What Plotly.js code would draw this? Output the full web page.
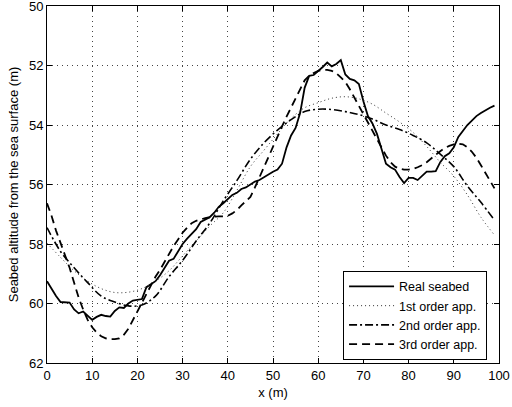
<!DOCTYPE html>
<html>
<head>
<meta charset="utf-8">
<script src="https://cdn.plot.ly/plotly-3.0.1.min.js"></script>
<style>
html,body{margin:0;padding:0;background:#fff;}
#chart{width:512px;height:407px;}
</style>
</head>
<body>
<div id="chart"></div>
<script>
// Real seabed, sampled every metre
var realX = [0,1,2,3,4,5,6,7,8,9,10,11,12,13,14,15,16,17,18,19,20,21,22,23,24,25,26,27,28,29,30,31,32,33,34,35,36,37,38,39,40,41,42,43,44,45,46,47,48,49,50,51,52,53,54,55,56,57,58,59,60,61,62,63,64,65,66,67,68,69,70,71,72,73,74,75,76,77,78,79,80,81,82,83,84,85,86,87,88,89,90,91,92,93,94,95,96,97,98,99];
var realY = [59.25,59.5,59.75,59.95,59.95,59.97,60.2,60.33,60.27,60.4,60.55,60.45,60.38,60.42,60.44,60.25,60.13,60.15,60.0,59.9,59.88,59.85,59.45,59.35,59.25,59.05,58.78,58.56,58.5,58.25,58.0,57.82,57.66,57.5,57.26,57.18,57.1,56.95,56.75,56.63,56.5,56.35,56.28,56.15,56.1,56.0,55.9,55.85,55.75,55.65,55.57,55.5,55.3,54.75,54.35,54.1,53.6,52.75,52.35,52.32,52.2,52.05,51.9,52.03,51.95,51.82,52.3,52.45,52.5,52.62,53.2,53.7,53.95,54.3,54.8,55.3,55.42,55.5,55.75,55.95,55.78,55.78,55.85,55.7,55.57,55.57,55.55,55.25,55.05,54.95,54.75,54.4,54.2,54.0,53.85,53.7,53.6,53.5,53.42,53.35];

// 1st and 2nd order approximations (read every 3 m)
var appX = [0,3,6,9,12,15,18,21,24,27,30,33,36,39,42,45,48,51,54,57,60,63,66,69,72,75,78,81,84,87,90,93,96,99];
var order1Y = [57.97,58.45,58.9,59.25,59.5,59.63,59.62,59.5,59.25,58.9,58.4,57.9,57.4,56.95,56.2,55.4,54.85,54.3,53.78,53.42,53.25,53.1,53.05,53.12,53.3,53.6,53.9,54.25,54.72,55.25,55.72,56.35,57.1,57.7];
var order2Y = [57.45,58.25,58.8,59.3,59.75,59.95,60.08,60.05,59.75,59.1,58.55,57.9,57.3,56.55,55.87,55.15,54.6,54.17,53.82,53.55,53.47,53.48,53.55,53.65,53.8,54.0,54.15,54.35,54.6,54.98,55.4,56.05,56.6,57.2];

// 3rd order approximation (read every metre)
var order3Y = [56.63,57.05,57.55,57.95,58.4,58.8,59.3,59.8,60.2,60.55,60.8,60.98,61.1,61.17,61.2,61.2,61.17,61.05,60.85,60.55,60.25,59.95,59.65,59.4,59.1,58.87,58.6,58.32,58.07,57.85,57.62,57.45,57.3,57.22,57.17,57.13,57.1,57.08,57.07,57.07,57.05,56.97,56.86,56.7,56.55,56.42,56.1,55.75,55.45,55.1,54.75,54.4,54.05,53.72,53.4,53.1,52.8,52.5,52.35,52.25,52.18,52.15,52.15,52.18,52.26,52.4,52.55,52.8,53.08,53.35,53.65,53.92,54.2,54.5,54.78,55.03,55.25,55.4,55.47,55.5,55.5,55.48,55.42,55.35,55.25,55.12,55.0,54.88,54.78,54.7,54.65,54.63,54.65,54.75,54.9,55.1,55.35,55.6,55.85,56.13];

var names = ['Real seabed','1st order app.','2nd order app.','3rd order app.'];
var xTicks = [0,10,20,30,40,50,60,70,80,90,100];
var yTicks = [50,52,54,56,58,60,62];

var traces = [
  {x: realX, y: realY, name: names[0], mode: 'lines', line: {color: '#000', width: 1.8}},
  {x: appX, y: order1Y, name: names[1], mode: 'lines', line: {color: '#333', width: 1, dash: '1px,3px', shape: 'spline'}},
  {x: appX, y: order2Y, name: names[2], mode: 'lines', line: {color: '#000', width: 1.6, dash: '8px,3px,2px,3px', shape: 'spline'}},
  {x: realX, y: order3Y, name: names[3], mode: 'lines', line: {color: '#000', width: 1.8, dash: '8px,5px'}}
];

var fam = 'Liberation Sans, Arial, Helvetica, sans-serif';
var fnt = {family: fam, size: 13, color: '#000'};

var layout = {
  width: 512, height: 407,
  margin: {l: 47, r: 13, t: 6, b: 44},
  paper_bgcolor: '#fff', plot_bgcolor: '#fff',
  font: fnt,
  showlegend: true,
  legend: {
    x: 0.655, y: 0.009, xanchor: 'left', yanchor: 'bottom',
    bgcolor: '#fff', bordercolor: '#000', borderwidth: 1,
    font: {family: fam, size: 12.5, color: '#000'},
    itemwidth: 45, tracegroupgap: 0
  },
  xaxis: {
    range: [0, 100], tickvals: xTicks, ticktext: xTicks.map(String),
    ticks: 'inside', ticklen: 5, tickcolor: '#000', mirror: 'ticks',
    showline: true, linecolor: '#000', linewidth: 1,
    showgrid: true, gridcolor: '#444', griddash: '1px,4px', gridwidth: 1,
    zeroline: false, tickfont: fnt, ticklabeloverflow: 'allow',
    title: {text: 'x (m)', font: fnt, standoff: 6},
    automargin: false
  },
  yaxis: {
    range: [62, 50], tickvals: yTicks, ticktext: yTicks.map(String),
    ticks: 'inside', ticklen: 5, tickcolor: '#000', mirror: 'ticks',
    showline: true, linecolor: '#000', linewidth: 1,
    showgrid: true, gridcolor: '#444', griddash: '1px,4px', gridwidth: 1,
    zeroline: false, tickfont: fnt, ticklabeloverflow: 'allow',
    title: {text: 'Seabed altitude from the sea surface (m)', font: fnt, standoff: 7},
    automargin: false
  }
};

Plotly.newPlot('chart', traces, layout, {staticPlot: true, displayModeBar: false});
</script>
</body>
</html>
